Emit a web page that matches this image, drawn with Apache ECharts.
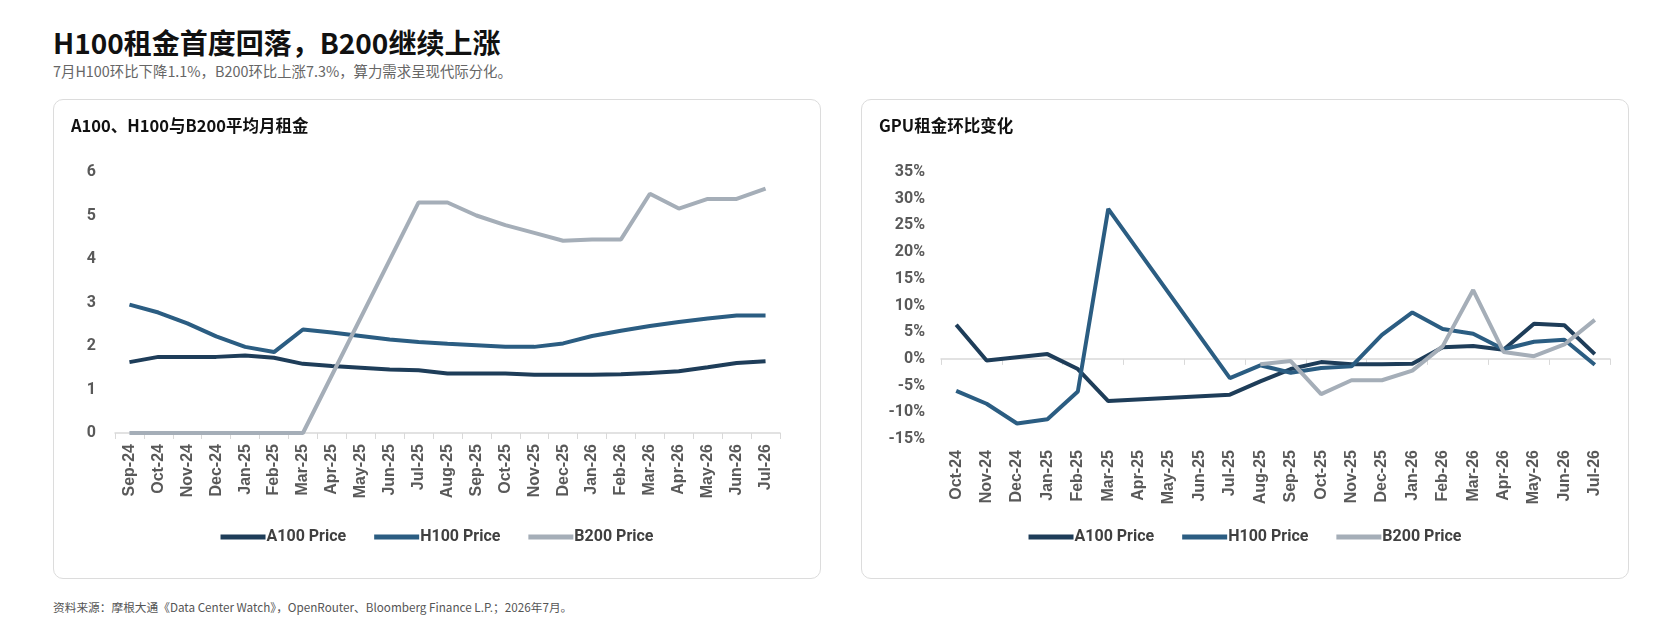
<!DOCTYPE html>
<html>
<head>
<meta charset="utf-8">
<script src="https://cdn.jsdelivr.net/npm/echarts/dist/echarts.min.js"></script>
<style>
  html, body { margin: 0; padding: 0; background: #fff; }
  body { width: 1666px; height: 630px; position: relative; font-family: "Noto Sans CJK SC", "Noto Sans", sans-serif; }
  .title { position: absolute; left: 53px; top: 22px; font-size: 28px; font-weight: bold; color: #111; }
  .sub { position: absolute; left: 53px; top: 60px; font-size: 14.4px; color: #666; }
  .card { position: absolute; top: 99px; width: 766px; height: 478px; border: 1px solid #dcdcdc; border-radius: 10px; }
  .card h3 { position: absolute; left: 17px; top: 13px; margin: 0; font-size: 16.5px; font-weight: bold; color: #111; z-index: 2; }
  .chart { position: absolute; left: 0; top: 0; width: 100%; height: 100%; }
  .foot { position: absolute; left: 53px; top: 598px; font-size: 11.7px; color: #555; }
</style>
</head>
<body>
<div class="title">H100租金首度回落，B200继续上涨</div>
<div class="sub">7月H100环比下降1.1%，B200环比上涨7.3%，算力需求呈现代际分化。</div>

<div class="card" style="left:53px">
  <h3>A100、H100与B200平均月租金</h3>
  <div id="price" class="chart"></div>
</div>
<div class="card" style="left:861px">
  <h3>GPU租金环比变化</h3>
  <div id="mom" class="chart"></div>
</div>
<div class="foot">资料来源：摩根大通《Data Center Watch》，OpenRouter、Bloomberg Finance L.P.；2026年7月。</div>

<script type="text/javascript">
// 月租金（左图）
var priceMonths = ['Sep-24','Oct-24','Nov-24','Dec-24','Jan-25','Feb-25','Mar-25','Apr-25','May-25','Jun-25','Jul-25','Aug-25',
                   'Sep-25','Oct-25','Nov-25','Dec-25','Jan-26','Feb-26','Mar-26','Apr-26','May-26','Jun-26','Jul-26'];
var a100Price = [1.63,1.75,1.75,1.75,1.78,1.73,1.59,1.54,1.50,1.46,1.44,1.37,1.37,1.37,1.34,1.34,1.34,1.35,1.38,1.42,1.51,1.61,1.65];
var h100Price = [2.95,2.77,2.52,2.22,1.98,1.86,2.38,2.31,2.23,2.15,2.09,2.05,2.02,1.98,1.98,2.06,2.23,2.35,2.46,2.55,2.63,2.70,2.70];
var b200Price = [0,0,0,0,0,0,0,null,null,null,5.3,5.3,5.0,4.78,4.6,4.42,4.45,4.45,5.5,5.16,5.38,5.38,5.62];

// 环比变化（右图，%）
var momMonths = ['Oct-24','Nov-24','Dec-24','Jan-25','Feb-25','Mar-25','Apr-25','May-25','Jun-25','Jul-25','Aug-25',
                 'Sep-25','Oct-25','Nov-25','Dec-25','Jan-26','Feb-26','Mar-26','Apr-26','May-26','Jun-26','Jul-26'];
var a100Mom = [6.4,-0.3,0.3,0.9,-1.9,-7.9,null,null,null,-6.7,-4.2,-1.9,-0.6,-1.0,-1.0,-0.9,2.2,2.4,1.7,6.6,6.3,0.9];
var h100Mom = [-6.0,-8.4,-12.1,-11.3,-6.1,28.1,null,null,null,-3.6,-1.2,-2.6,-1.7,-1.4,4.5,8.7,5.6,4.7,1.8,3.2,3.6,-1.1];
var b200Mom = [null,null,null,null,null,null,null,null,null,null,-1.0,-0.4,-6.6,-4.0,-4.0,-2.2,2.4,12.9,1.3,0.5,2.7,7.3];

var names = ['A100 Price','H100 Price','B200 Price'];
var colors = ['#1e3d59','#2b5d82','#a5aeb8'];
var labelColor = '#595959';

function lineSeries(name, data, color) {
    return {
        name: name,
        type: 'line',
        data: data,
        xAxisIndex: 0,
        connectNulls: true,
        symbol: 'none',
        lineStyle: { color: color, width: 4 },
        itemStyle: { color: color }
    };
}

var legendCfg = {
    data: names,
    bottom: 28,
    left: 'center',
    icon: 'rect',
    itemWidth: 45,
    itemHeight: 5,
    itemGap: 28,
    textStyle: { fontFamily: 'Roboto', fontWeight: 'bold', fontSize: 16, color: '#404040', padding: [0, 0, 0, -4] }
};

var xLabel = {
    rotate: 90,
    margin: 11,
    fontFamily: 'Liberation Sans',
    fontWeight: 'bold',
    fontSize: 16,
    color: labelColor
};

var yLabel = { fontFamily: 'Roboto', fontWeight: 'bold', fontSize: 16, color: labelColor };

// 左图
var price_chart = echarts.init(document.getElementById('price'));
price_chart.setOption({
    animation: false,
    color: colors,
    legend: legendCfg,
    grid: { left: 61, right: 40, top: 72, bottom: 145 },
    xAxis: {
        type: 'category',
        data: priceMonths,
        boundaryGap: true,
        axisLine: { lineStyle: { color: '#d9d9d9', width: 1.5 } },
        axisTick: { show: true, length: 6, lineStyle: { color: '#d9d9d9' } },
        axisLabel: xLabel
    },
    yAxis: {
        type: 'value',
        min: 0,
        max: 6,
        interval: 1,
        axisLine: { show: false },
        axisTick: { show: false },
        splitLine: { show: false },
        axisLabel: Object.assign({ margin: 19 }, yLabel)
    },
    series: [
        lineSeries(names[0], a100Price, colors[0]),
        lineSeries(names[1], h100Price, colors[1]),
        lineSeries(names[2], b200Price, colors[2])
    ]
});

// 右图
var mom_chart = echarts.init(document.getElementById('mom'));
mom_chart.setOption({
    animation: false,
    color: colors,
    legend: legendCfg,
    grid: { left: 79, right: 18, top: 72, bottom: 139 },
    xAxis: [
        {
            type: 'category',
            data: momMonths,
            position: 'bottom',
            axisLine: { show: false, onZero: false },
            axisTick: { show: false },
            axisLabel: xLabel
        },
        {
            type: 'category',
            data: momMonths,
            position: 'bottom',
            axisLine: { show: true, onZero: true, lineStyle: { color: '#d9d9d9', width: 1.5 } },
            axisTick: { show: true, length: 6, lineStyle: { color: '#d9d9d9' } },
            axisLabel: { show: false }
        }
    ],
    yAxis: {
        type: 'value',
        min: -15,
        max: 35,
        interval: 5,
        axisLine: { show: false },
        axisTick: { show: false },
        splitLine: { show: false },
        axisLabel: Object.assign({ margin: 16, formatter: '{value}%' }, yLabel)
    },
    series: [
        lineSeries(names[0], a100Mom, colors[0]),
        lineSeries(names[1], h100Mom, colors[1]),
        lineSeries(names[2], b200Mom, colors[2])
    ]
});
</script>
</body>
</html>
